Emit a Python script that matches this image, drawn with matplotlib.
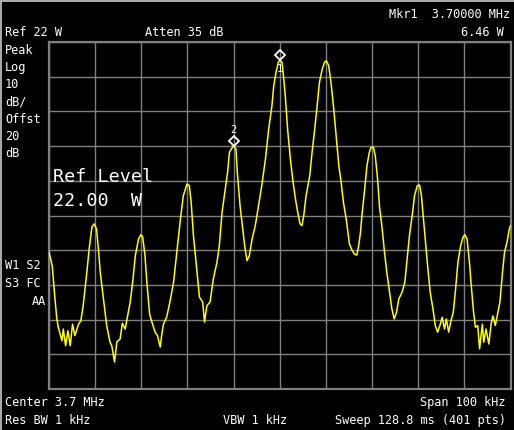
import matplotlib
matplotlib.use("Agg")
import matplotlib.pyplot as plt
from matplotlib.patches import Rectangle
from matplotlib.transforms import offset_copy

# Настройки анализатора спектра
ref_level_dbm = 43.42      # 22 W
db_per_div = 10
center_mhz = 3.7
span_khz = 100

# Трасса: смещение частоты от центра (кГц) и уровень (дБм)
freq_offset_khz = [
    -50.0, -49.3, -48.7, -48.3, -48.0, -47.2, -46.9, -46.4, -45.9, -45.4,
    -44.9, -44.4, -43.6, -43.1, -42.6, -41.8, -41.3, -40.7, -40.2, -39.7,
    -39.3, -38.9, -38.2, -37.5, -36.8, -36.4, -35.8, -35.3, -34.6, -34.1,
    -33.5, -33.1, -32.4, -31.8, -31.3, -30.6, -30.1, -29.7, -29.2, -28.8,
    -28.2, -27.7, -27.0, -26.5, -25.9, -25.6, -25.2, -24.5, -23.8, -23.0,
    -22.3, -21.6, -20.9, -20.1, -19.6, -19.2, -18.7, -18.0, -17.4, -16.7,
    -16.3, -15.8, -15.1, -14.4, -13.6, -13.1, -12.5, -11.8, -11.3, -10.9,
    -10.4, -10.0, -9.5, -9.2, -8.6, -8.1, -7.6, -7.1, -6.6, -6.0,
    -5.3, -4.6, -3.9, -3.1, -2.4, -1.7, -1.3, -0.8, -0.3, 0.0,
    0.5, 0.8, 1.2, 1.7, 2.3, 2.8, 3.4, 3.9, 4.4, 4.8,
    5.2, 5.7, 6.5, 7.0, 7.5, 8.1, 8.6, 9.2, 9.7, 10.1,
    10.6, 11.1, 11.7, 12.3, 12.8, 13.3, 13.8, 14.4, 15.1, 15.7,
    16.2, 16.7, 17.1, 17.5, 17.8, 18.4, 18.9, 19.4, 19.8, 20.3,
    20.7, 21.2, 21.6, 22.2, 22.7, 23.2, 23.8, 24.3, 24.8, 25.3,
    25.8, 26.5, 27.1, 27.6, 28.1, 28.7, 29.2, 29.8, 30.3, 30.7,
    31.2, 31.6, 32.1, 32.6, 33.2, 33.7, 34.2, 34.7, 35.2, 35.7,
    36.1, 36.6, 37.1, 37.6, 38.1, 38.6, 39.2, 39.7, 40.1, 40.6,
    41.1, 41.5, 42.0, 42.4, 42.9, 43.3, 43.9, 44.2, 44.7, 45.3,
    45.8, 46.2, 46.7, 47.2, 47.7, 48.2, 48.7, 49.3, 49.7, 50.0,
]
level_dbm = [
    -17.1, -21.1, -30.7, -36.4, -38.7, -42.7, -39.3, -44.1, -39.8, -44.1,
    -37.9, -41.2, -37.9, -36.9, -32.6, -22.9, -16.2, -9.9, -9.0, -10.5,
    -16.2, -22.9, -30.6, -38.3, -43.0, -44.1, -48.8, -43.0, -42.2, -37.6,
    -39.3, -36.4, -31.5, -24.9, -18.2, -13.4, -12.1, -12.8, -18.2, -25.7,
    -35.0, -37.3, -40.2, -41.2, -44.5, -41.2, -37.9, -35.8, -31.5, -25.7,
    -17.1, -8.5, -0.9, 2.5, 2.0, -2.7, -12.4, -22.0, -30.1, -31.5,
    -37.3, -32.6, -31.5, -24.9, -20.0, -15.3, -5.6, 1.0, 5.9, 11.7,
    12.8, 13.5, 12.6, 5.9, -3.8, -9.5, -15.3, -19.6, -18.2, -13.4,
    -9.5, -3.8, 2.0, 9.7, 18.3, 25.0, 30.8, 34.7, 37.6, 38.1,
    37.6, 33.7, 27.9, 18.3, 9.7, 3.9, -1.8, -5.7, -9.0, -9.5,
    -6.6, -0.9, 4.9, 11.6, 17.4, 25.0, 31.8, 35.6, 37.6, 38.0,
    36.6, 31.8, 24.1, 15.4, 7.8, 3.0, -2.8, -7.6, -14.8, -16.7,
    -17.7, -18.0, -15.3, -11.4, -6.6, 1.0, 7.8, 11.6, 13.1, 13.1,
    10.6, 3.9, -3.8, -10.5, -17.2, -23.0, -28.7, -33.5, -36.4, -34.5,
    -30.6, -28.7, -25.8, -19.1, -12.4, -6.6, -0.9, 2.0, 2.2, -0.9,
    -8.5, -14.3, -22.0, -28.7, -33.5, -38.3, -40.2, -38.3, -35.9, -39.3,
    -36.4, -40.2, -36.9, -34.5, -27.8, -20.1, -15.3, -12.9, -12.1, -13.4,
    -20.1, -26.8, -34.5, -38.8, -38.3, -45.0, -37.9, -43.1, -39.3, -43.6,
    -37.9, -35.5, -38.3, -35.0, -31.6, -23.9, -17.2, -13.9, -10.7, -9.5,
]

# Маркеры
marker_names = ["1", "2"]
marker_freq_khz = [0.0, -10.0]
marker_level_dbm = [38.1, 13.5]

W, H = 514, 431
GRID = "#7f7f7f"
MONO = "DejaVu Sans Mono"

fig = plt.figure(figsize=(W / 100, H / 100), dpi=100, facecolor="black")

# Серая рамка экрана (сверху и слева)
fig.add_artist(Rectangle((0, 1 - 3 / H), 1, 3 / H, transform=fig.transFigure,
                         color="#a8a8a8", lw=0))
fig.add_artist(Rectangle((0, 0), 2 / W, 1, transform=fig.transFigure,
                         color="#a8a8a8", lw=0))

ax = fig.add_axes([49 / W, 1 - 390 / H, 461.5 / W, 347 / H])
ax.set_facecolor("black")
ax.set_xlim(-span_khz / 2, span_khz / 2)
ax.set_ylim(ref_level_dbm - 10 * db_per_div, ref_level_dbm)
ax.set_xticks([-50 + 10 * i for i in range(11)])
ax.set_yticks([ref_level_dbm - db_per_div * i for i in range(11)])
ax.tick_params(length=0, labelbottom=False, labelleft=False)
ax.grid(True, color=GRID, lw=1.0)
for s in ax.spines.values():
    s.set_color(GRID)
    s.set_linewidth(1.6)

ax.plot(freq_offset_khz, level_dbm, color="#ffff00", lw=1.1, zorder=3)

# Ромбы маркеров
up = offset_copy(ax.transData, fig=fig, x=0, y=5, units="dots")
ax.plot(marker_freq_khz, marker_level_dbm, ls="none", marker="D", ms=5.5,
        mfc="none", mec="white", mew=1.3, transform=up, zorder=4, clip_on=False)
for name, f, lv in zip(marker_names, marker_freq_khz, marker_level_dbm):
    dy = -8 if name == "1" else 17
    t = offset_copy(ax.transData, fig=fig, x=0, y=dy, units="dots")
    ax.text(f, lv, name, transform=t, color="white", fontsize=7.5, family=MONO,
            ha="center", va="center", zorder=5)


def label(x, y, s, ha="left", size=8.6):
    fig.text(x / W, 1 - y / H, s, color="white", fontsize=size, family=MONO,
             ha=ha, va="center")


label(5, 33, "Ref 22 W")
label(145, 33, "Atten 35 dB")
label(510, 14, "Mkr1  3.70000 MHz", ha="right")
label(504, 32, "6.46 W", ha="right")

left_col = ["Peak", "Log", "10", "dB/", "Offst", "20", "dB"]
for i, s in enumerate(left_col):
    label(5, 50 + 17.3 * i, s)

label(53, 177, "Ref Level", size=13.2)
label(53, 201.5, "22.00  W", size=13.2)

label(5, 265.5, "W1 S2")
label(5, 283.5, "S3 FC")
label(46, 301.5, "AA", ha="right")

label(5, 403, "Center 3.7 MHz")
label(506, 403, "Span 100 kHz", ha="right")
label(5, 421, "Res BW 1 kHz")
label(223, 421, "VBW 1 kHz")
label(506, 421, "Sweep 128.8 ms (401 pts)", ha="right")

fig.savefig("out.png", dpi=100, facecolor="black")
